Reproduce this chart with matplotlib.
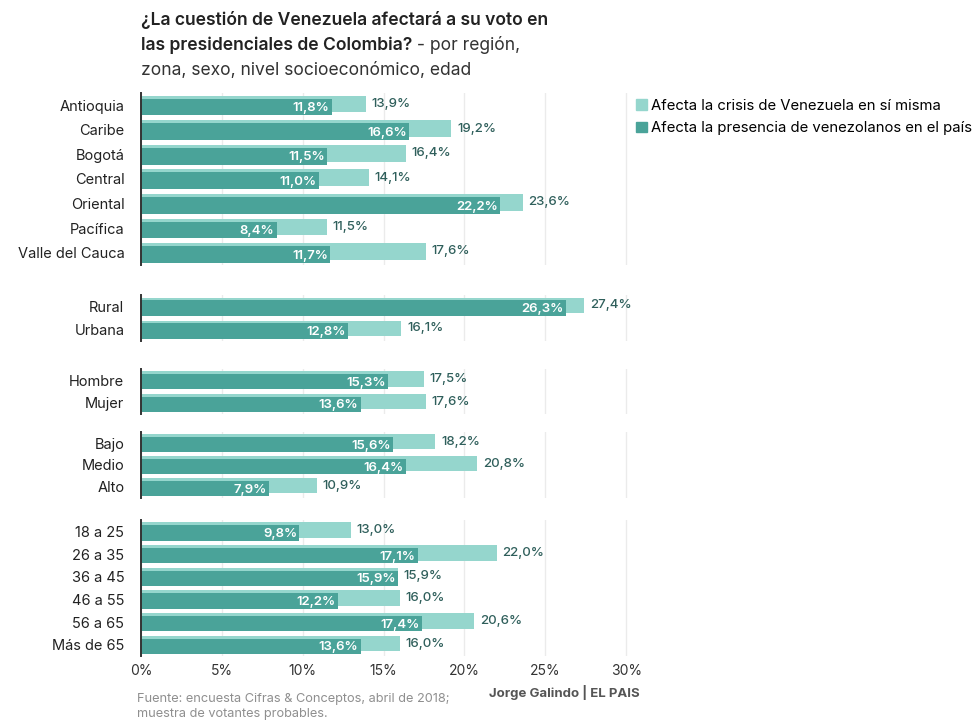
import matplotlib
matplotlib.use("Agg")
import matplotlib.pyplot as plt
from matplotlib.patches import Patch

plt.rcParams['font.family'] = ['Inter', 'DejaVu Sans']

# datos
regiones = ["Antioquia", "Caribe", "Bogotá", "Central", "Oriental", "Pacífica", "Valle del Cauca"]
reg_crisis = [13.9, 19.2, 16.4, 14.1, 23.6, 11.5, 17.6]
reg_presencia = [11.8, 16.6, 11.5, 11.0, 22.2, 8.4, 11.7]

zonas = ["Rural", "Urbana"]
zona_crisis = [27.4, 16.1]
zona_presencia = [26.3, 12.8]

sexos = ["Hombre", "Mujer"]
sexo_crisis = [17.5, 17.6]
sexo_presencia = [15.3, 13.6]

niveles = ["Bajo", "Medio", "Alto"]
nse_crisis = [18.2, 20.8, 10.9]
nse_presencia = [15.6, 16.4, 7.9]

edades = ["18 a 25", "26 a 35", "36 a 45", "46 a 55", "56 a 65", "Más de 65"]
edad_crisis = [13.0, 22.0, 15.9, 16.0, 20.6, 16.0]
edad_presencia = [9.8, 17.1, 15.9, 12.2, 17.4, 13.6]

ticks = [0, 5, 10, 15, 20, 25, 30]

C_LIGHT = "#95d6cd"
C_DARK = "#4aa399"
C_TXT = "#2f5f5b"

W, H = 980, 727
fig = plt.figure(figsize=(W / 100, H / 100), dpi=100)

x0 = 141
px_pct = 16.17
xmax = 30.4

# (categorias, crisis, presencia, y_top_px, y_bottom_px)
grupos = [
    (regiones, reg_crisis, reg_presencia, 93, 265),
    (zonas, zona_crisis, zona_presencia, 295, 341),
    (sexos, sexo_crisis, sexo_presencia, 369, 414),
    (niveles, nse_crisis, nse_presencia, 432, 498),
    (edades, edad_crisis, edad_presencia, 520, 656),
]


def fmt(v):
    return ("%.1f" % v).replace(".", ",") + "%"


for k, (cats, crisis, pres, top, bot) in enumerate(grupos):
    ax = fig.add_axes([x0 / W, (H - bot) / H, xmax * px_pct / W, (bot - top) / H])
    n = len(cats)
    y = list(range(n))
    ax.barh([i - 0.05 for i in y], crisis, height=0.68, color=C_LIGHT, zorder=2)
    ax.barh([i + 0.07 for i in y], pres, height=0.68, color=C_DARK, zorder=3)
    for i in range(n):
        ax.text(pres[i] - 0.15, i + 0.12, fmt(pres[i]), color="white", ha="right", va="center",
                fontsize=9.5, fontweight="semibold", zorder=4)
        ax.text(crisis[i] + 0.35, i - 0.05, fmt(crisis[i]), color=C_TXT, ha="left", va="center",
                fontsize=9.5, fontweight="medium", zorder=4)
    ax.set_ylim(n - 0.5, -0.5)
    ax.set_xlim(0, xmax)
    ax.set_yticks(y)
    ax.set_yticklabels(cats, fontsize=10.5, color="#222222")
    ax.tick_params(axis="y", length=0, pad=12)
    ax.set_xticks(ticks)
    ax.grid(axis="x", color="#ebebeb", linewidth=1, zorder=0)
    for s in ["top", "right", "bottom"]:
        ax.spines[s].set_visible(False)
    ax.spines["left"].set_color("#333333")
    ax.spines["left"].set_linewidth(1.4)
    ax.spines["left"].set_zorder(5)
    if k == len(grupos) - 1:
        ax.set_xticklabels([str(t) + "%" for t in ticks], fontsize=10, color="#333333")
        ax.tick_params(axis="x", length=0, pad=6)
    else:
        ax.tick_params(axis="x", length=0, labelbottom=False)

# titulo
fs_t = 12.6
fig.text(141 / W, 1 - 20 / H, "¿La cuestión de Venezuela afectará a su voto en", fontsize=fs_t,
         fontweight="semibold", color="#222222", va="center")
t2 = fig.text(141 / W, 1 - 45 / H, "las presidenciales de Colombia?", fontsize=fs_t,
              fontweight="semibold", color="#222222", va="center")
fig.canvas.draw()
bb = t2.get_window_extent(renderer=fig.canvas.get_renderer())
fig.text(bb.x1 / W, 1 - 45 / H, " - por región,", fontsize=fs_t, color="#333333", va="center")
fig.text(141 / W, 1 - 70 / H, "zona, sexo, nivel socioeconómico, edad", fontsize=fs_t,
         color="#333333", va="center")

# leyenda
handles = [Patch(color=C_LIGHT, label="Afecta la crisis de Venezuela en sí misma"),
           Patch(color=C_DARK, label="Afecta la presencia de venezolanos en el país")]
fig.legend(handles=handles, loc="upper left", bbox_to_anchor=(636 / W, 1 - 99 / H), frameon=False,
           fontsize=10.7, handlelength=0.75, handleheight=0.75, handletextpad=0.25,
           labelspacing=0.55, borderaxespad=0, borderpad=0)

# pie
fig.text(137 / W, 1 - 693 / H, "Fuente: encuesta Cifras & Conceptos, abril de 2018;\nmuestra de votantes probables.",
         fontsize=9.2, color="#8f8f8f", va="top", linespacing=1.35)
fig.text(640 / W, 1 - 693 / H, "Jorge Galindo | EL PAIS", fontsize=9.5, color="#555555",
         fontweight="bold", ha="right", va="center")

fig.savefig("out.png", dpi=100)
